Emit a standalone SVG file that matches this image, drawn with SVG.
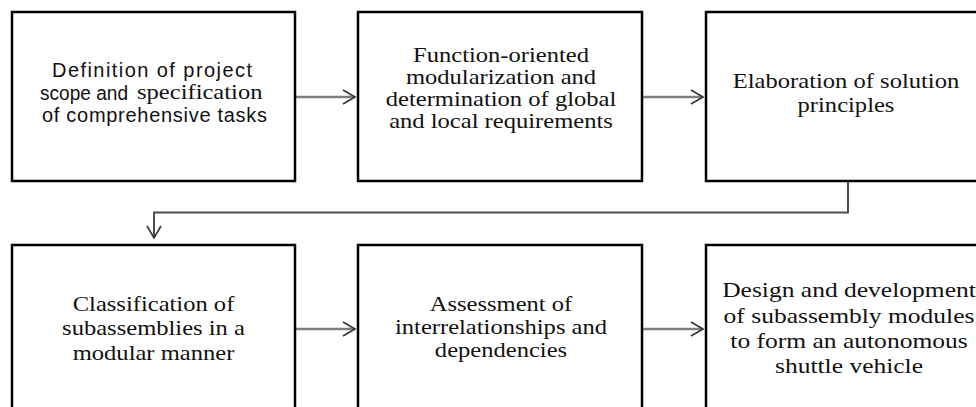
<svg xmlns="http://www.w3.org/2000/svg" width="976" height="407" viewBox="0 0 976 407">
<style>
.box{fill:#fff;stroke:#000;stroke-width:2.5}
.sans{font-family:"Liberation Sans",Arial,sans-serif;font-size:20px;fill:#111}
.serif{font-family:"Liberation Serif","Times New Roman",serif;font-size:21px;fill:#111;text-anchor:middle}
.serif6{font-family:"Liberation Serif","Times New Roman",serif;font-size:22px;fill:#111;text-anchor:middle}
.conn{fill:none;stroke:#7f7f7f;stroke-width:2.5}
.conn2{fill:none;stroke:#4d4d4d;stroke-width:2}
</style>
<defs>
<marker id="arr" markerUnits="userSpaceOnUse" markerWidth="16" markerHeight="18" refX="13" refY="8" orient="auto" viewBox="0 0 16 18">
<path d="M1,1 L13,8 L1,15" fill="none" stroke="#333" stroke-width="1.6"/>
</marker>
</defs>
<rect width="976" height="407" fill="#fff"/>
<g id="connectors">
<line class="conn" x1="296" y1="97" x2="355" y2="97" marker-end="url(#arr)"/>
<line class="conn" x1="643" y1="97" x2="703" y2="97" marker-end="url(#arr)"/>
<path class="conn2" d="M848,182 V212.5 H154 V238" marker-end="url(#arr)"/>
<line class="conn" x1="296" y1="329" x2="355" y2="329" marker-end="url(#arr)"/>
<line class="conn" x1="643" y1="329" x2="703" y2="329" marker-end="url(#arr)"/>
</g>
<g id="node1">
<rect class="box" x="12" y="12" width="283" height="169"/>
<text class="sans" x="52" y="77" textLength="200" lengthAdjust="spacing">Definition of project</text>
<text class="sans" x="40" y="99.5" textLength="88" lengthAdjust="spacingAndGlyphs">scope and</text>
<g transform="translate(137,0) scale(1.17,1)"><text class="serif" x="0" y="99.5" style="text-anchor:start">specification</text></g>
<text class="sans" x="42" y="122" textLength="225" lengthAdjust="spacing">of comprehensive tasks</text>
</g>
<g id="node2">
<rect class="box" x="358" y="12" width="284" height="169"/>
<g transform="translate(501,0) scale(1.17,1)">
<text class="serif" x="0" y="62">Function-oriented</text>
<text class="serif" x="0" y="84">modularization and</text>
<text class="serif" x="0" y="106">determination of global</text>
<text class="serif" x="0" y="128">and local requirements</text>
</g>
</g>
<g id="node3">
<rect class="box" x="706" y="12" width="290" height="169"/>
<g transform="translate(846,0) scale(1.17,1)">
<text class="serif" x="0" y="88">Elaboration of solution</text>
<text class="serif" x="0" y="112">principles</text>
</g>
</g>
<g id="node4">
<rect class="box" x="12" y="245" width="283" height="180"/>
<g transform="translate(153.5,0) scale(1.17,1)">
<text class="serif" x="0" y="311">Classification of</text>
<text class="serif" x="0" y="335">subassemblies in a</text>
<text class="serif" x="0" y="360">modular manner</text>
</g>
</g>
<g id="node5">
<rect class="box" x="358" y="245" width="284" height="180"/>
<g transform="translate(501,0) scale(1.17,1)">
<text class="serif" x="0" y="311">Assessment of</text>
<text class="serif" x="0" y="334">interrelationships  and</text>
<text class="serif" x="0" y="357">dependencies</text>
</g>
</g>
<g id="node6">
<rect class="box" x="706" y="245" width="290" height="180"/>
<g transform="translate(849,0) scale(1.16,1)">
<text class="serif6" x="0" y="297.5">Design and development</text>
<text class="serif6" x="0" y="323">of subassembly modules</text>
<text class="serif6" x="0" y="348.5">to form an autonomous</text>
<text class="serif6" x="0" y="373.5">shuttle vehicle</text>
</g>
</g>
</svg>
